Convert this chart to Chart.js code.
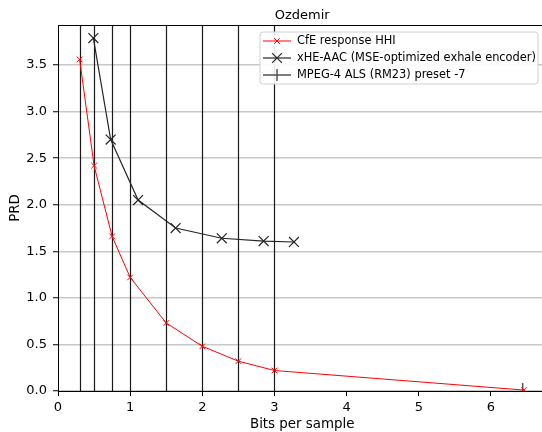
<!DOCTYPE html>
<html>
<head>
<meta charset="utf-8">
<script src="https://cdn.jsdelivr.net/npm/chart.js@4.4.1/dist/chart.umd.min.js"></script>
<style>
  html, body { margin: 0; padding: 0; background: #fff; overflow: hidden; }
  #wrap { width: 556px; height: 432px; position: relative; }
</style>
</head>
<body>
<div id="wrap"><canvas id="c"></canvas></div>
<script>
// bitrates marked with vertical lines
const vlineX = [0.3, 0.5, 0.75, 1, 1.5, 2, 2.5, 3];

const cfeX = [0.3, 0.5, 0.75, 1, 1.5, 2, 2.5, 3, 6.46];
const cfeY = [3.56, 2.42, 1.66, 1.22, 0.73, 0.48, 0.32, 0.22, 0.01];

const xheX = [0.49, 0.73, 1.11, 1.63, 2.27, 2.85, 3.27];
const xheY = [3.79, 2.70, 2.05, 1.75, 1.64, 1.61, 1.60];

const alsX = [6.44];
const alsY = [0];

const xTicks = [0, 1, 2, 3, 4, 5, 6];
const yTicks = [0, 0.5, 1, 1.5, 2, 2.5, 3, 3.5];

const FONT = "'DejaVu Sans', sans-serif";

function pts(xs, ys) { return xs.map((x, i) => ({ x: x, y: ys[i] })); }

const decor = {
  id: 'decor',
  beforeDatasetsDraw(chart) {
    const ctx = chart.ctx, a = chart.chartArea, sx = chart.scales.x;
    ctx.save();
    ctx.strokeStyle = '#1a1a1a';
    ctx.lineWidth = 1.2;
    vlineX.forEach(v => {
      const px = Math.round(sx.getPixelForValue(v)) + 0.5;
      ctx.beginPath();
      ctx.moveTo(px, a.bottom);
      ctx.lineTo(px, a.top);
      ctx.stroke();
    });
    ctx.restore();
  },
  afterDraw(chart) {
    const ctx = chart.ctx, a = chart.chartArea;
    ctx.save();
    // top spine
    ctx.strokeStyle = '#000';
    ctx.lineWidth = 1;
    ctx.beginPath();
    ctx.moveTo(a.left, a.top + 0.5);
    ctx.lineTo(a.right, a.top + 0.5);
    ctx.stroke();

    ctx.fillStyle = '#000';
    ctx.textAlign = 'center';
    ctx.textBaseline = 'alphabetic';
    ctx.font = '13px ' + FONT;
    ctx.fillText('Ozdemir', (a.left + a.right) / 2, 19);

    ctx.font = '13.4px ' + FONT;
    ctx.fillText('Bits per sample', (a.left + a.right) / 2, 428);
    ctx.save();
    ctx.translate(19, (a.top + a.bottom) / 2);
    ctx.rotate(-Math.PI / 2);
    ctx.fillText('PRD', 0, 0);
    ctx.restore();

    // legend
    const bx = 260, by = 32, bw = 278, bh = 52, r = 3;
    ctx.beginPath();
    ctx.moveTo(bx + r, by);
    ctx.arcTo(bx + bw, by, bx + bw, by + bh, r);
    ctx.arcTo(bx + bw, by + bh, bx, by + bh, r);
    ctx.arcTo(bx, by + bh, bx, by, r);
    ctx.arcTo(bx, by, bx + bw, by, r);
    ctx.closePath();
    ctx.fillStyle = 'rgba(255,255,255,0.9)';
    ctx.fill();
    ctx.strokeStyle = '#d0d0d0';
    ctx.lineWidth = 1;
    ctx.stroke();

    const rows = [41, 58, 75];
    chart.data.datasets.forEach((ds, i) => {
      const y = rows[i];
      ctx.strokeStyle = ds.borderColor;
      ctx.lineWidth = ds.borderWidth;
      ctx.beginPath();
      ctx.moveTo(263, y);
      ctx.lineTo(291, y);
      ctx.stroke();
      const mx = 277;
      ctx.strokeStyle = ds.pointBorderColor;
      ctx.lineWidth = ds.pointBorderWidth;
      ctx.beginPath();
      if (ds.pointStyle === 'crossRot') {
        const d = ds.pointRadius * 0.707;
        ctx.moveTo(mx - d, y - d); ctx.lineTo(mx + d, y + d);
        ctx.moveTo(mx - d, y + d); ctx.lineTo(mx + d, y - d);
      } else {
        ctx.moveTo(mx, y - 6); ctx.lineTo(mx, y + 6);
      }
      ctx.stroke();
      ctx.fillStyle = '#000';
      ctx.textAlign = 'left';
      ctx.textBaseline = 'middle';
      ctx.font = '11.4px ' + FONT;
      ctx.fillText(ds.label, 297, y + 0.5);
    });
    ctx.restore();
  }
};

function noPad(s) { s.paddingLeft = 0; s.paddingRight = 0; s.paddingTop = 0; s.paddingBottom = 0; }

new Chart(document.getElementById('c'), {
  type: 'line',
  data: {
    datasets: [
      {
        label: 'CfE response HHI',
        data: pts(cfeX, cfeY),
        borderColor: '#ff0000',
        borderWidth: 1,
        pointStyle: 'crossRot',
        pointRadius: 4,
        pointBorderColor: '#ff0000',
        pointBorderWidth: 1,
        fill: false,
        tension: 0
      },
      {
        label: 'xHE-AAC (MSE-optimized exhale encoder)',
        data: pts(xheX, xheY),
        borderColor: '#262626',
        borderWidth: 1.2,
        pointStyle: 'crossRot',
        pointRadius: 7,
        pointBorderColor: '#262626',
        pointBorderWidth: 1.2,
        fill: false,
        tension: 0
      },
      {
        label: 'MPEG-4 ALS (RM23) preset -7',
        data: pts(alsX, alsY),
        borderColor: '#262626',
        borderWidth: 1.2,
        pointStyle: 'line',
        rotation: 90,
        pointRadius: 8,
        pointBorderColor: '#555555',
        pointBorderWidth: 1.5,
        fill: false,
        clip: 0
      }
    ]
  },
  options: {
    responsive: true,
    maintainAspectRatio: false,
    animation: false,
    layout: { padding: { top: 25, left: 0, right: 0, bottom: 0 } },
    plugins: { legend: { display: false }, title: { display: false }, tooltip: { enabled: false } },
    scales: {
      x: {
        type: 'linear',
        min: 0,
        max: 6.77,
        afterFit(s) { s.height = 41; noPad(s); },
        afterBuildTicks(s) { s.ticks = xTicks.map(v => ({ value: v })); },
        grid: { drawOnChartArea: false, tickColor: '#000', tickLength: 5, tickWidth: 1 },
        border: { color: '#000', width: 1 },
        ticks: { color: '#000', font: { family: FONT, size: 13 }, padding: 4, maxRotation: 0,
                 callback: v => String(v) }
      },
      y: {
        type: 'linear',
        min: 0,
        max: 3.93,
        afterFit(s) { s.width = 58; noPad(s); },
        afterBuildTicks(s) { s.ticks = yTicks.map(v => ({ value: v })); },
        grid: { color: 'rgba(176,176,176,0.7)', lineWidth: 1.5, tickColor: '#000', tickLength: 5, tickWidth: 1 },
        border: { color: '#000', width: 1 },
        ticks: { color: '#000', font: { family: FONT, size: 13 }, padding: 6,
                 callback: v => v.toFixed(1) }
      }
    }
  },
  plugins: [decor]
});
</script>
</body>
</html>
